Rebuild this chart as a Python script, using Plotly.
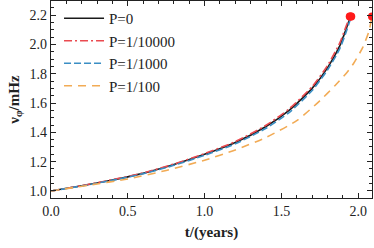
import plotly.graph_objects as go

# Data
t_p0 = [0.0, 0.2, 0.4, 0.6, 0.8, 1.0, 1.2, 1.4, 1.55, 1.7, 1.8, 1.88, 1.92, 1.95]
nu_p0 = [1.0, 1.035, 1.075, 1.12, 1.18, 1.25, 1.33, 1.44, 1.55, 1.70, 1.84, 1.99, 2.10, 2.19]

t_p4 = [0.0, 0.2, 0.4, 0.6, 0.8, 1.0, 1.2, 1.4, 1.55, 1.7, 1.8, 1.88, 1.92, 1.945]
nu_p4 = [1.0, 1.036, 1.077, 1.123, 1.184, 1.255, 1.337, 1.448, 1.56, 1.712, 1.855, 2.01, 2.12, 2.19]

t_p3 = [0.0, 0.2, 0.4, 0.6, 0.8, 1.0, 1.2, 1.4, 1.55, 1.7, 1.8, 1.88, 1.92, 1.955]
nu_p3 = [1.0, 1.034, 1.073, 1.117, 1.175, 1.243, 1.322, 1.428, 1.535, 1.685, 1.825, 1.97, 2.08, 2.19]

t_p2 = [0.0, 0.25, 0.5, 0.75, 1.0, 1.2, 1.4, 1.6, 1.75, 1.85, 1.92, 1.97, 2.03, 2.07, 2.09]
nu_p2 = [1.0, 1.04, 1.082, 1.14, 1.21, 1.28, 1.365, 1.48, 1.615, 1.72, 1.80, 1.87, 1.98, 2.09, 2.19]

labels = ["P=0", "P=1/10000", "P=1/1000", "P=1/100"]
colors = ["#1a1a1a", "#ea4a50", "#3a8ec4", "#f2ab55"]
dashes = ["solid", "8px,3px,2px,3px", "7px,3px", "8px,6px"]
series = [(t_p0, nu_p0), (t_p4, nu_p4), (t_p3, nu_p3), (t_p2, nu_p2)]

fig = go.Figure()
for (tt, vv), lab, col, d in zip(series, labels, colors, dashes):
    fig.add_trace(go.Scatter(x=tt, y=vv, mode="lines", name=lab,
                             line=dict(color=col, width=1.6, dash=d, shape="spline", smoothing=0.6)))

end_t = [s[0][-1] for s in series]
end_v = [s[1][-1] for s in series]
fig.add_trace(go.Scatter(x=end_t, y=end_v, mode="markers", showlegend=False,
                         marker=dict(color="#ff1a1a", size=8), cliponaxis=True))

font = dict(family="Liberation Serif, Times New Roman, serif", size=14, color="#222")
axis_common = dict(showline=True, linecolor="#222", linewidth=1.2, mirror="ticks",
                   ticks="inside", ticklen=5, tickcolor="#222", showgrid=False, zeroline=False,
                   tickfont=font)
fig.update_layout(
    width=374, height=248,
    margin=dict(l=51, r=2, t=1, b=50),
    paper_bgcolor="white", plot_bgcolor="white",
    font=font,
    showlegend=True,
    legend=dict(x=0.025, y=0.995, xanchor="left", yanchor="top", bgcolor="rgba(0,0,0,0)",
                font=dict(family="Liberation Serif, serif", size=15, color="#222"),
                tracegroupgap=0, itemwidth=40),
    xaxis=dict(range=[0, 2.09], tickvals=[0, 0.5, 1.0, 1.5, 2.0],
               ticktext=["0.0", "0.5", "1.0", "1.5", "2.0"],
               minor=dict(ticks="inside", dtick=0.1, ticklen=3, tickcolor="#222"),
               title=dict(text="<b>t/(years)</b>", font=dict(family="Liberation Serif, serif", size=15, color="#222"), standoff=8),
               automargin=False,
               **axis_common),
    yaxis=dict(range=[0.952, 2.296], tickvals=[1.0, 1.2, 1.4, 1.6, 1.8, 2.0, 2.2],
               ticktext=["1.0", "1.2", "1.4", "1.6", "1.8", "2.0", "2.2"],
               minor=dict(ticks="inside", dtick=0.05, ticklen=3, tickcolor="#222"),
               title=dict(text="<b>ν<sub>φ</sub>/mHz</b>", font=dict(family="Liberation Serif, serif", size=15, color="#222"), standoff=6),
               automargin=False,
               **axis_common),
)
fig.write_html("out.html", config={"displayModeBar": False},
               post_script="document.body.style.margin='0';document.body.style.overflow='hidden';")
